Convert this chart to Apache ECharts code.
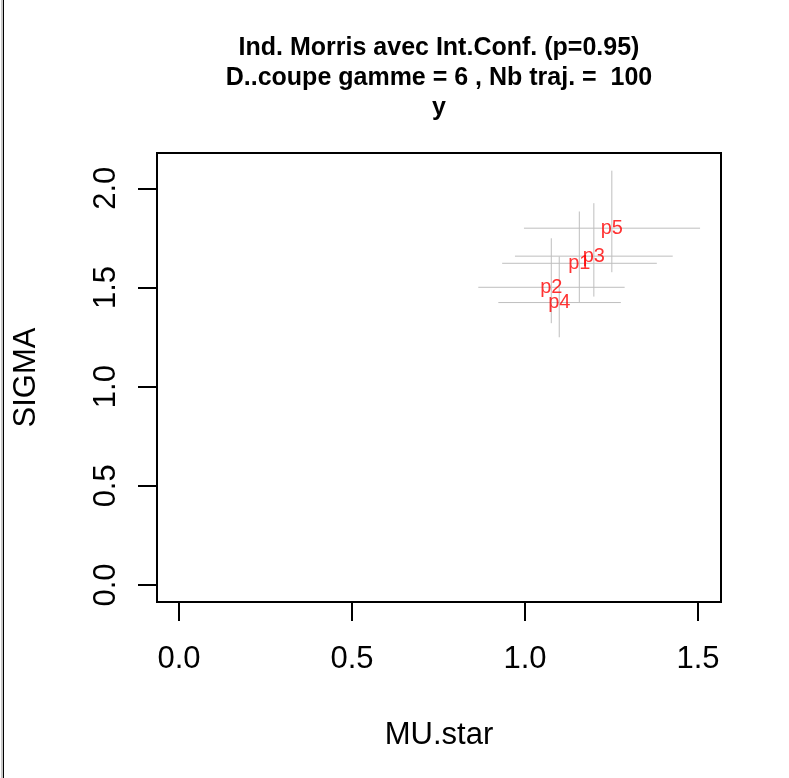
<!DOCTYPE html>
<html>
<head>
<meta charset="utf-8">
<script src="https://cdn.jsdelivr.net/npm/echarts@6/dist/echarts.min.js"></script>
<style>html,body{margin:0;padding:0;background:#fff;}#c{width:789px;height:778px;}</style>
</head>
<body>
<div id="c"></div>
<script>
// Data
const params = ["p1", "p2", "p3", "p4", "p5"];
const muStar = [1.157, 1.076, 1.199, 1.099, 1.251];
const sigma = [1.622, 1.501, 1.658, 1.424, 1.799];
const muLow = [0.934, 0.865, 0.971, 0.923, 0.997];
const muHigh = [1.381, 1.288, 1.427, 1.277, 1.506];
const sigmaLow = [1.424, 1.320, 1.454, 1.249, 1.577];
const sigmaHigh = [1.883, 1.748, 1.925, 1.656, 2.089];
const xTicks = ["0.0", "0.5", "1.0", "1.5"];
const yTicks = ["0.0", "0.5", "1.0", "1.5", "2.0"];
const titleLines = ["Ind. Morris avec Int.Conf. (p=0.95)", "D..coupe gamme = 6 , Nb traj. =  100", "y"];

const FONT = "'Liberation Sans', Arial, Helvetica, sans-serif";
const chart = echarts.init(document.getElementById('c'), null, {renderer: 'canvas'});

const ciData = params.map((p, i) => [muLow[i], muHigh[i], sigmaLow[i], sigmaHigh[i], muStar[i], sigma[i]]);
const ptData = params.map((p, i) => ({value: [muStar[i], sigma[i]], name: p}));

const option = {
  animation: false,
  backgroundColor: '#fff',
  grid: {left: 157, top: 153, width: 564, height: 449, show: true, borderColor: '#000', borderWidth: 2, backgroundColor: 'transparent', containLabel: false},
  xAxis: {
    type: 'value', min: -0.0636, max: 1.5665,
    name: 'MU.star', nameLocation: 'middle', nameGap: 118,
    nameTextStyle: {fontFamily: FONT, fontSize: 31, color: '#000'},
    axisLine: {show: false, onZero: false},
    axisTick: {show: true, inside: false, length: 19, lineStyle: {color: '#000', width: 2}, customValues: xTicks.map(Number)},
    axisLabel: {show: true, margin: 42, fontFamily: FONT, fontSize: 31, color: '#000', customValues: xTicks.map(Number), formatter: v => v.toFixed(1)},
    splitLine: {show: false}
  },
  yAxis: {
    type: 'value', min: -0.0857, max: 2.178,
    name: 'SIGMA', nameLocation: 'middle', nameGap: 115, nameRotate: 90,
    nameTextStyle: {fontFamily: FONT, fontSize: 31, color: '#000'},
    axisLine: {show: false, onZero: false},
    axisTick: {show: true, inside: false, length: 19, lineStyle: {color: '#000', width: 2}, customValues: yTicks.map(Number)},
    axisLabel: {show: true, margin: 35, rotate: 90, fontFamily: FONT, fontSize: 31, color: '#000', customValues: yTicks.map(Number), formatter: v => v.toFixed(1)},
    splitLine: {show: false}
  },
  graphic: [
    {type: 'rect', shape: {x: 1, y: 0, width: 2, height: 778}, style: {fill: '#c8c8c8'}, z: 100},
    {type: 'rect', shape: {x: 3, y: 0, width: 1, height: 778}, style: {fill: '#000'}, z: 100},
    {type: 'text', x: 439, y: 33, style: {text: titleLines.join('\n'), font: 'bold 25px ' + FONT, fill: '#000', align: 'center', verticalAlign: 'top', lineHeight: 30}, z: 100}
  ],
  series: [
    {
      type: 'custom',
      data: ciData,
      renderItem: function (params, api) {
        const y = api.value(5), x = api.value(4);
        const h0 = api.coord([api.value(0), y]);
        const h1 = api.coord([api.value(1), y]);
        const v0 = api.coord([x, api.value(2)]);
        const v1 = api.coord([x, api.value(3)]);
        const st = {stroke: '#bebebe', lineWidth: 1};
        return {type: 'group', children: [
          {type: 'line', shape: {x1: h0[0], y1: h0[1], x2: h1[0], y2: h1[1]}, style: st},
          {type: 'line', shape: {x1: v0[0], y1: v0[1], x2: v1[0], y2: v1[1]}, style: st}
        ]};
      },
      silent: true, z: 2
    },
    {
      type: 'scatter',
      data: ptData,
      symbolSize: 0,
      label: {show: true, position: 'inside', formatter: p => p.name, color: '#ff0000', fontFamily: FONT, fontSize: 20},
      silent: true, z: 3
    }
  ]
};
chart.setOption(option);
</script>
</body>
</html>
